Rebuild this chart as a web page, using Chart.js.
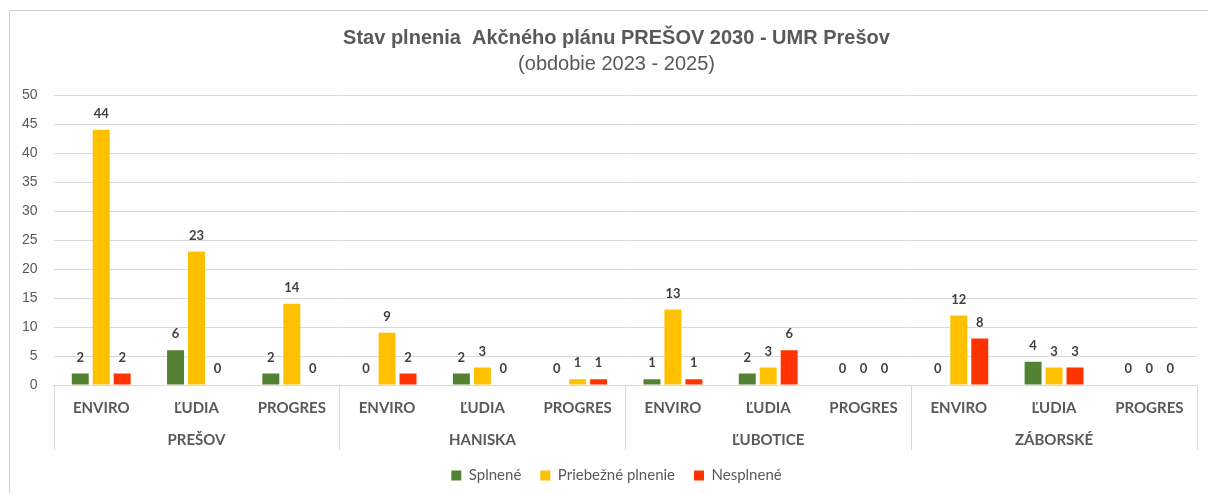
<!DOCTYPE html>
<html>
<head>
<meta charset="utf-8">
<script src="https://cdn.jsdelivr.net/npm/chart.js@4.4.1/dist/chart.umd.min.js"></script>
<style>
  html, body { margin: 0; padding: 0; background: #fff; }
  #wrap { width: 1208px; height: 493px; position: relative; }
</style>
</head>
<body>
<div id="wrap"><canvas id="c" width="1208" height="493"></canvas></div>
<script>
const subCategories = ['ENVIRO', 'ĽUDIA', 'PROGRES', 'ENVIRO', 'ĽUDIA', 'PROGRES', 'ENVIRO', 'ĽUDIA', 'PROGRES', 'ENVIRO', 'ĽUDIA', 'PROGRES'];
const groups = ['PREŠOV', 'HANISKA', 'ĽUBOTICE', 'ZÁBORSKÉ'];
const splnene = [2, 6, 2, 0, 2, 0, 1, 2, 0, 0, 4, 0];
const priebezne = [44, 23, 14, 9, 3, 1, 13, 3, 0, 12, 3, 0];
const nesplnene = [2, 0, 0, 2, 0, 1, 1, 6, 0, 8, 3, 0];
const yTicks = [0, 5, 10, 15, 20, 25, 30, 35, 40, 45, 50];

const TXT = '#595959';
const GRID = '#d9d9d9';

const framePlugin = {
  id: 'frame',
  beforeDraw(chart) {
    const ctx = chart.ctx;
    ctx.save();
    ctx.fillStyle = '#fff';
    ctx.fillRect(0, 0, chart.width, chart.height);
    ctx.strokeStyle = '#d0d0d0';
    ctx.lineWidth = 1;
    ctx.beginPath();
    ctx.moveTo(9.5, chart.height);
    ctx.lineTo(9.5, 10.5);
    ctx.lineTo(chart.width, 10.5);
    ctx.stroke();
    ctx.restore();
  }
};

// Shift title, subtitle and legend so they centre like the reference
const centerShiftPlugin = {
  id: 'centerShift',
  afterLayout(chart) {
    const shift = 15;
    chart.boxes.forEach(b => {
      if (b === chart.legend || (b.options && (b.options.position === 'top') && !b.axis)) {
        b.left += shift;
        b.right += shift;
      }
    });
  }
};

const separatorPlugin = {
  id: 'separators',
  afterDraw(chart) {
    const xs = chart.scales.x;
    const ctx = chart.ctx;
    const step = (xs.right - xs.left) / subCategories.length;
    ctx.save();
    ctx.strokeStyle = GRID;
    ctx.lineWidth = 1;
    for (let g = 0; g <= groups.length; g++) {
      const px = Math.round(xs.left + g * 3 * step) + 0.5;
      ctx.beginPath();
      ctx.moveTo(px, xs.top);
      ctx.lineTo(px, xs.top + 65);
      ctx.stroke();
    }
    ctx.restore();
  }
};

const valueLabelPlugin = {
  id: 'valueLabels',
  afterDatasetsDraw(chart) {
    const ctx = chart.ctx;
    ctx.save();
    ctx.font = 'bold 13px Lato, "Liberation Sans", sans-serif';
    ctx.fillStyle = '#404040';
    ctx.textAlign = 'center';
    ctx.textBaseline = 'middle';
    chart.data.datasets.forEach((ds, i) => {
      const meta = chart.getDatasetMeta(i);
      meta.data.forEach((bar, j) => {
        ctx.fillText(String(ds.data[j]), bar.x, bar.y - 16);
      });
    });
    ctx.restore();
  }
};

new Chart(document.getElementById('c'), {
  type: 'bar',
  data: {
    labels: subCategories,
    datasets: [
      { label: 'Splnené', data: splnene, backgroundColor: '#548235', xAxisID: 'x' },
      { label: 'Priebežné plnenie', data: priebezne, backgroundColor: '#FFC000', xAxisID: 'x' },
      { label: 'Nesplnené', data: nesplnene, backgroundColor: '#FF3300', xAxisID: 'x' }
    ]
  },
  options: {
    responsive: false,
    animation: false,
    devicePixelRatio: 1,
    datasets: { bar: { categoryPercentage: 0.66, barPercentage: 0.81 } },
    layout: { padding: { top: 26, left: 6, right: 11, bottom: 0 } },
    plugins: {
      title: {
        display: true,
        text: 'Stav plnenia  Akčného plánu PREŠOV 2030 - UMR Prešov',
        color: TXT,
        font: { family: '"Liberation Sans", Arial, sans-serif', size: 20, weight: 'bold' },
        padding: { top: 0, bottom: 2 }
      },
      subtitle: {
        display: true,
        text: '(obdobie 2023 - 2025)',
        color: TXT,
        font: { family: '"Liberation Sans", Arial, sans-serif', size: 20, weight: 'normal' },
        padding: { top: 0, bottom: 19 }
      },
      legend: {
        display: true,
        position: 'bottom',
        labels: {
          color: TXT,
          font: { family: 'Lato, "Liberation Sans", sans-serif', size: 15 },
          boxWidth: 10,
          boxHeight: 10,
          padding: 19
        }
      },
      tooltip: { enabled: false }
    },
    scales: {
      y: {
        min: 0,
        max: 50,
        afterBuildTicks(scale) { scale.ticks = yTicks.map(v => ({ value: v })); },
        ticks: {
          color: TXT,
          font: { family: '"Liberation Sans", Arial, sans-serif', size: 14 },
          padding: 16
        },
        grid: { color: GRID, drawTicks: false },
        border: { display: false }
      },
      x: {
        position: 'bottom',
        offset: true,
        ticks: {
          color: TXT,
          font: { family: 'Lato, "Liberation Sans", sans-serif', size: 15, weight: 'bold' },
          padding: 14,
          maxRotation: 0,
          autoSkip: false
        },
        grid: { display: false, drawTicks: false },
        border: { display: true, color: GRID }
      },
      x2: {
        type: 'category',
        position: 'bottom',
        labels: groups,
        offset: true,
        ticks: {
          color: TXT,
          font: { family: 'Lato, "Liberation Sans", sans-serif', size: 15, weight: 'bold' },
          padding: 0,
          maxRotation: 0,
          autoSkip: false
        },
        grid: { display: false, drawTicks: false },
        border: { display: false }
      }
    }
  },
  plugins: [framePlugin, centerShiftPlugin, separatorPlugin, valueLabelPlugin]
});
</script>
</body>
</html>
